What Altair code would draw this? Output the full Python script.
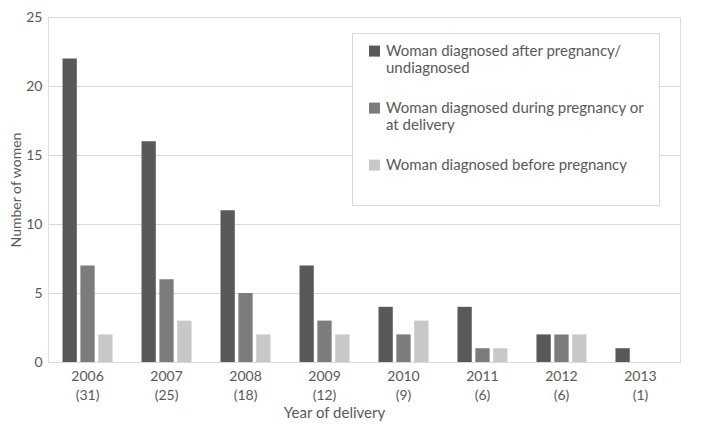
import altair as alt
import pandas as pd

years = ["2006", "2007", "2008", "2009", "2010", "2011", "2012", "2013"]
totals = [31, 25, 18, 12, 9, 6, 6, 1]
series = [
    "Woman diagnosed after pregnancy/|undiagnosed",
    "Woman diagnosed during pregnancy or|at delivery",
    "Woman diagnosed before pregnancy|",
]
after_or_undiag = [22, 16, 11, 7, 4, 4, 2, 1]
during = [7, 6, 5, 3, 2, 1, 2, 0]
before = [2, 3, 2, 2, 3, 1, 2, 0]
colors = ["#595959", "#7c7c7c", "#c8c8c8"]

cats = [f"{y}|({t})" for y, t in zip(years, totals)]
rows = []
for s, vals in zip(series, [after_or_undiag, during, before]):
    for c, v in zip(cats, vals):
        rows.append({"cat": c, "series": s, "value": v})
df = pd.DataFrame(rows)

txt = "#595959"
chart = alt.Chart(df).mark_bar().encode(
    x=alt.X(
        "cat:N",
        sort=cats,
        scale=alt.Scale(paddingInner=0.367, paddingOuter=0.184),
        axis=alt.Axis(
            title="Year of delivery",
            labelExpr="split(datum.label, '|')",
            labelAngle=0,
            ticks=False,
            domainColor="#d9d9d9",
            labelPadding=7,
            labelFontSize=14,
            labelLineHeight=19,
            labelColor=txt,
            titleFontSize=15,
            titleColor=txt,
            titleFontWeight="normal",
            titleX=286,
            titleY=43,
            titleAlign="center",
            titleBaseline="top",
        ),
    ),
    xOffset=alt.XOffset("series:N", sort=series, scale=alt.Scale(paddingInner=0.2)),
    y=alt.Y(
        "value:Q",
        scale=alt.Scale(domain=[0, 25]),
        axis=alt.Axis(
            values=[0, 5, 10, 15, 20, 25],
            title="Number of women",
            grid=True,
            gridColor="#d9d9d9",
            domain=False,
            ticks=False,
            labelPadding=6,
            labelFontSize=14,
            labelColor=txt,
            titleFontSize=14,
            titleColor=txt,
            titleFontWeight="normal",
            titleX=-25,
        ),
    ),
    color=alt.Color(
        "series:N",
        sort=series,
        scale=alt.Scale(domain=series, range=colors),
        legend=alt.Legend(
            title=None,
            orient="none",
            legendX=304,
            legendY=16,
            labelExpr="split(datum.label, '|')",
            strokeColor="#d9d9d9",
            fillColor="white",
            padding=15,
            symbolType="M-1,-1.8H1V0.2H-1Z",
            symbolSize=121,
            symbolStrokeWidth=0,
            labelFontSize=15,
            labelBaseline="alphabetic",
            labelLimit=400,
            labelColor=txt,
            rowPadding=24,
        ),
    ),
).properties(
    width=632,
    height=345,
    autosize=alt.AutoSizeParams(type="none"),
    padding={"left": 40, "top": 9, "right": 20, "bottom": 62},
).configure_view(stroke=None).configure(font="Lato")

chart.save("out.html", embed_options={"renderer": "svg", "actions": False})
